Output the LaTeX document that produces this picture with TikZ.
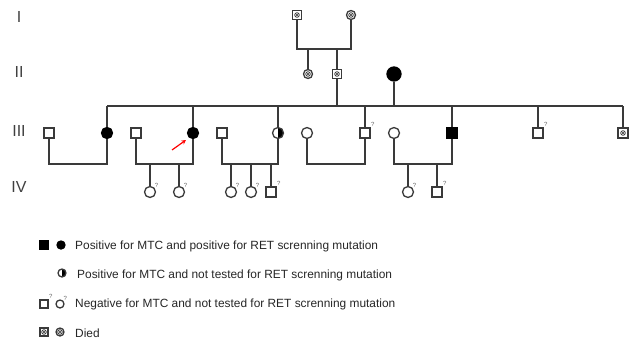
\documentclass[tikz,border=0pt]{standalone}
\usepackage{fontspec}
\setmainfont{Liberation Sans}
\usetikzlibrary{arrows.meta}
\definecolor{linegray}{HTML}{3A3A3A}
\tikzset{
  male/.style={draw=linegray, rectangle, line width=1.3pt, minimum size=10pt, inner sep=0pt, fill=white},
  female/.style={draw=linegray, circle, line width=1.3pt, minimum size=11pt, inner sep=0pt, fill=white},
  affected/.style={fill=black, draw=black},
  half/.style={path picture={\fill[black] (path picture bounding box.north) rectangle (path picture bounding box.south east);}},
  died/.style={minimum size=9pt, path picture={\draw[line width=0.6pt] (path picture bounding box.center) circle (2.4pt) ++(-1.5pt,-1.5pt) -- ++(3pt,3pt) ++(0,-3pt) -- ++(-3pt,3pt);}},
  unk/.style={label={[qmark]north east:?}},
  qmark/.style={font=\fontsize{6}{6}\selectfont, text=black!60, inner sep=0.2pt},
  keysym/.style={minimum size=8pt},
  gen/.style={font=\fontsize{16}{16}\selectfont, text=black!75},
  keytext/.style={anchor=west, font=\fontsize{11.9}{13}\selectfont, text=black!85, inner sep=0pt},
  link/.style={draw=linegray, line width=1.4pt}
}
\begin{document}
\begin{tikzpicture}[x=1pt,y=-1pt]
\useasboundingbox (0,0) rectangle (629,343);

\node[gen] (gI) at (19,17) {I};
\node[gen] (gII) at (19,72) {II};
\node[gen] (gIII) at (19,131) {III};
\node[gen] (gIV) at (19,187) {IV};

\coordinate (m0) at (324,49);
\coordinate (sL) at (107,106);
\coordinate (sR) at (623,106);
\coordinate (s0) at (365,106);
\coordinate (m1) at (107,164);
\coordinate (m2) at (193,164);
\coordinate (m3) at (278,164);
\coordinate (m4) at (365,164);
\coordinate (m5) at (452,164);

\node[male,died] (I1) at (297,15) {};
\node[female,died] (I2) at (351,15) {};

\node[female,died] (II1) at (308,74) {};
\node[male,died] (II2) at (337,74) {};
\node[female,affected,minimum size=14pt] (II3) at (394,74) {};

\node[male] (III1) at (49,133) {};
\node[female,affected] (III2) at (107,133) {};
\node[male] (III3) at (136,133) {};
\node[female,affected] (III4) at (193,133) {};
\node[male] (III5) at (222,133) {};
\node[female,half] (III6) at (278,133) {};
\node[female] (III7) at (307,133) {};
\node[male,unk] (III8) at (365,133) {};
\node[female] (III9) at (394,133) {};
\node[male,affected] (III10) at (452,133) {};
\node[male,unk] (III11) at (538,133) {};
\node[male,died,minimum size=10pt] (III12) at (623,133) {};

\node[female,unk] (IV1) at (150,192) {};
\node[female,unk] (IV2) at (179,192) {};
\node[female,unk] (IV3) at (231,192) {};
\node[female,unk] (IV4) at (251,192) {};
\node[male,unk] (IV5) at (271,192) {};
\node[female,unk] (IV6) at (408,192) {};
\node[male,unk] (IV7) at (437,192) {};

\draw[link] (I1) |- (m0) -| (I2);
\draw[link] (II1) -- (II1 |- m0);
\draw[link] (II2) -- (II2 |- m0);
\draw[link] (II2) |- (s0) -| (II3);
\draw[link] (sL) -- (sR);
\foreach \n in {III2,III4,III6,III8,III10,III11,III12}
  \draw[link] (\n) -- (\n |- sL);
\draw[link] (III1) |- (m1) -- (III2);
\draw[link] (III3) |- (m2) -- (III4);
\draw[link] (III5) |- (m3) -- (III6);
\draw[link] (III7) |- (m4) -- (III8);
\draw[link] (III9) |- (m5) -- (III10);
\foreach \n/\m in {IV1/m2,IV2/m2,IV3/m3,IV4/m3,IV5/m3,IV6/m5,IV7/m5}
  \draw[link] (\n) -- (\n |- \m);

\coordinate (pa) at (172,150);
\coordinate (pb) at (186,140);
\draw[red, line width=1.2pt, -{Stealth[length=4.5pt,width=4.5pt]}] (pa) -- (pb);

\node[male,affected,keysym] (k1a) at (44,245) {};
\node[female,affected,keysym] (k1b) at (61,245) {};
\node[keytext] (t1) at (75,246) {Positive for MTC and positive for RET screnning mutation};
\node[female,half,keysym] (k2) at (62,273) {};
\node[keytext] (t2) at (77,275) {Positive for MTC and not tested for RET screnning mutation};
\node[male,unk,keysym] (k3a) at (44,304) {};
\node[female,unk,keysym] (k3b) at (60,304) {};
\node[keytext] (t3) at (75,304) {Negative for MTC and not tested for RET screnning mutation};
\node[male,died,keysym] (k4a) at (44,332) {};
\node[female,died,keysym] (k4b) at (60,332) {};
\node[keytext] (t4) at (75,333) {Died};
\end{tikzpicture}
\end{document}
